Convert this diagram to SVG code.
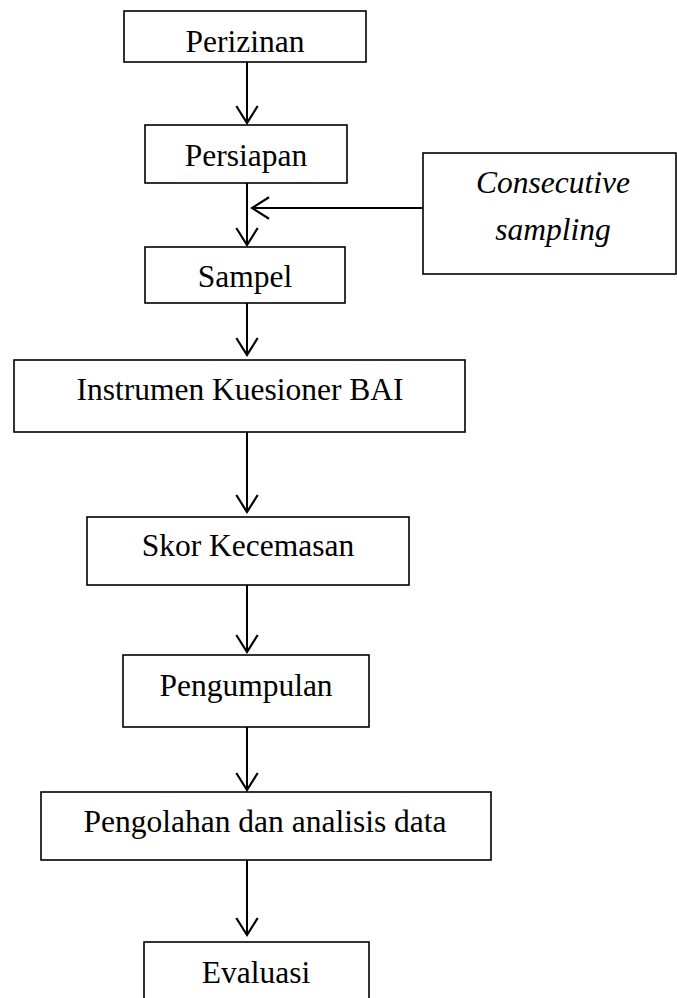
<svg xmlns="http://www.w3.org/2000/svg" width="677" height="998" viewBox="0 0 677 998">
<style>
.box{fill:#fff;stroke:#000;stroke-width:1.6}
.t{font-family:"Liberation Serif","Times New Roman",serif;font-size:31.5px;fill:#000;text-anchor:middle}
.i{font-style:italic}
.c{stroke:#000;stroke-width:2;fill:none}
</style>
<defs>
<marker id="v" viewBox="-19 -13 22 26" refX="0" refY="0" markerWidth="22" markerHeight="26" markerUnits="userSpaceOnUse" orient="auto" overflow="visible">
<path d="M-17,-10.7 L0,0 L-17,10.7" fill="none" stroke="#000" stroke-width="2.2"/>
</marker>
</defs>
<rect width="677" height="998" fill="#fff"/>
<g id="connectors">
<line class="c" x1="247" y1="62" x2="247" y2="123" marker-end="url(#v)"/>
<line class="c" x1="247" y1="183" x2="247" y2="245" marker-end="url(#v)"/>
<line class="c" x1="423" y1="208" x2="252" y2="208" marker-end="url(#v)"/>
<line class="c" x1="247" y1="303" x2="247" y2="355" marker-end="url(#v)"/>
<line class="c" x1="247" y1="432" x2="247" y2="512" marker-end="url(#v)"/>
<line class="c" x1="247" y1="585" x2="247" y2="652" marker-end="url(#v)"/>
<line class="c" x1="247" y1="727" x2="247" y2="790" marker-end="url(#v)"/>
<line class="c" x1="247" y1="860" x2="247" y2="935" marker-end="url(#v)"/>
</g>
<g id="perizinan"><rect class="box" x="124" y="11" width="242" height="51"/><text class="t" x="245" y="52">Perizinan</text></g>
<g id="persiapan"><rect class="box" x="145" y="125" width="202" height="58"/><text class="t" x="246" y="166">Persiapan</text></g>
<g id="consecutive"><rect class="box" x="423" y="153" width="253" height="121"/><text class="t i" x="553" y="193">Consecutive</text><text class="t i" x="553" y="240">sampling</text></g>
<g id="sampel"><rect class="box" x="145" y="247" width="200" height="56"/><text class="t" x="245" y="287">Sampel</text></g>
<g id="instrumen"><rect class="box" x="14" y="360" width="451" height="72"/><text class="t" x="240" y="400">Instrumen Kuesioner BAI</text></g>
<g id="skor"><rect class="box" x="87" y="517" width="322" height="68"/><text class="t" x="248" y="556">Skor Kecemasan</text></g>
<g id="pengumpulan"><rect class="box" x="123" y="655" width="246" height="72"/><text class="t" x="246" y="696">Pengumpulan</text></g>
<g id="pengolahan"><rect class="box" x="41" y="792" width="450" height="68"/><text class="t" x="265" y="832">Pengolahan dan analisis data</text></g>
<g id="evaluasi"><rect class="box" x="144" y="942" width="225" height="70"/><text class="t" x="256" y="983">Evaluasi</text></g>
</svg>
